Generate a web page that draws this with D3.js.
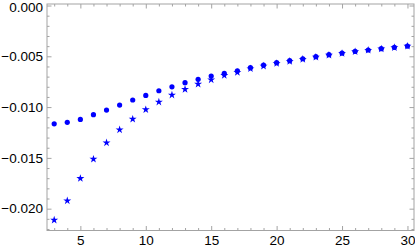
<!DOCTYPE html>
<html>
<head>
<meta charset="utf-8">
<script src="https://cdn.jsdelivr.net/npm/d3@7"></script>
<style>
    html, body { margin: 0; padding: 0; background: #fff; }
    svg { display: block; }
    .tick text { font-family: "Liberation Sans", Arial, sans-serif; font-size: 13.5px; fill: #000; }
</style>
</head>
<body>
<svg id="chart" width="415" height="250"></svg>
<script>
// data, x = 3..30
var xs = d3.range(3, 31);

var dots = [-0.01165, -0.0115, -0.01121, -0.01075, -0.01029, -0.0098, -0.0093, -0.00885,
    -0.00839, -0.0080, -0.0076, -0.00727, -0.00694, -0.00668, -0.00642, -0.00612,
    -0.00586, -0.00563, -0.00543, -0.00524, -0.00504, -0.00484, -0.00468, -0.00451,
    -0.00438, -0.00425, -0.00412, -0.00399];

var stars = [-0.02112, -0.01922, -0.01702, -0.01512, -0.01351, -0.01223, -0.01118, -0.01025,
    -0.0095, -0.00881, -0.00825, -0.00773, -0.00731, -0.00688, -0.00658, -0.00622,
    -0.00596, -0.0057, -0.00549, -0.00529, -0.00508, -0.00488, -0.00471, -0.00454,
    -0.0044, -0.00427, -0.00414, -0.004];

var xTicks = [5, 10, 15, 20, 25, 30];
var yTicks = [0, -0.005, -0.010, -0.015, -0.020];

var frame = { left: 47, right: 414, top: 4, bottom: 230.5 };
var color = '#0000ff';
var frameColor = '#a3a3a3';

var svg = d3.select('#chart');

var x = d3.scaleLinear()
    .domain([2.45, 30.5])
    .range([frame.left, frame.right]);

var y = d3.scaleLinear()
    .domain([-0.02215, 0.00015])
    .range([frame.bottom, frame.top]);

var fmtY = function (d) {
    var s = d3.format('.3f')(Math.abs(d));
    return d < 0 ? '\u2212' + s : s;
};

var minorX = d3.range(3, 31).filter(function (d) { return d % 5 !== 0; });
var minorY = d3.range(-22, 1).filter(function (d) { return d % 5 !== 0; })
    .map(function (d) { return d / 1000; });

function styleAxis(g) {
    g.select('.domain').remove();
    g.selectAll('.tick line').attr('stroke', frameColor);
}

// bottom
svg.append('g')
    .attr('transform', 'translate(0,' + frame.bottom + ')')
    .call(d3.axisBottom(x).tickValues(xTicks).tickFormat(d3.format('d')).tickSize(-4.5).tickPadding(5))
    .call(styleAxis);
svg.append('g')
    .attr('transform', 'translate(0,' + frame.bottom + ')')
    .call(d3.axisBottom(x).tickValues(minorX).tickFormat('').tickSize(-2.5))
    .call(styleAxis);

// top
svg.append('g')
    .attr('transform', 'translate(0,' + frame.top + ')')
    .call(d3.axisTop(x).tickValues(xTicks).tickFormat('').tickSize(-4.5))
    .call(styleAxis);
svg.append('g')
    .attr('transform', 'translate(0,' + frame.top + ')')
    .call(d3.axisTop(x).tickValues(minorX).tickFormat('').tickSize(-2.5))
    .call(styleAxis);

// left
var yAxisG = svg.append('g')
    .attr('transform', 'translate(' + frame.left + ',0)')
    .call(d3.axisLeft(y).tickValues(yTicks).tickFormat(fmtY).tickSize(-4.5).tickPadding(4))
    .call(styleAxis);
// keep the top label inside the picture
yAxisG.selectAll('.tick text')
    .filter(function (d) { return d === 0; })
    .attr('dy', '0.45em');
svg.append('g')
    .attr('transform', 'translate(' + frame.left + ',0)')
    .call(d3.axisLeft(y).tickValues(minorY).tickFormat('').tickSize(-2.5))
    .call(styleAxis);

// right
svg.append('g')
    .attr('transform', 'translate(' + frame.right + ',0)')
    .call(d3.axisRight(y).tickValues(yTicks).tickFormat('').tickSize(-4.5))
    .call(styleAxis);
svg.append('g')
    .attr('transform', 'translate(' + frame.right + ',0)')
    .call(d3.axisRight(y).tickValues(minorY).tickFormat('').tickSize(-2.5))
    .call(styleAxis);

svg.append('rect')
    .attr('x', frame.left)
    .attr('y', frame.top)
    .attr('width', frame.right - frame.left)
    .attr('height', frame.bottom - frame.top)
    .attr('fill', 'none')
    .attr('stroke', frameColor)
    .attr('stroke-width', 1);

// thin five-armed star marker
function starPath(r, ri) {
    var p = [];
    for (var i = 0; i < 10; i++) {
        var a = -Math.PI / 2 + i * Math.PI / 5;
        var rr = i % 2 === 0 ? r : ri;
        p.push([rr * Math.cos(a), rr * Math.sin(a)]);
    }
    return 'M' + p.map(function (d) { return d[0].toFixed(2) + ',' + d[1].toFixed(2); }).join('L') + 'Z';
}

var marks = svg.append('g');

marks.selectAll('.dot')
    .data(xs)
    .enter().append('circle')
    .attr('class', 'dot')
    .attr('cx', function (d) { return x(d); })
    .attr('cy', function (d, i) { return y(dots[i]); })
    .attr('r', 2.6)
    .attr('fill', color);

marks.selectAll('.star')
    .data(xs)
    .enter().append('path')
    .attr('class', 'star')
    .attr('transform', function (d, i) {
        return 'translate(' + x(d) + ',' + y(stars[i]) + ')';
    })
    .attr('d', starPath(4.2, 1.6))
    .attr('fill', color);
</script>
</body>
</html>
